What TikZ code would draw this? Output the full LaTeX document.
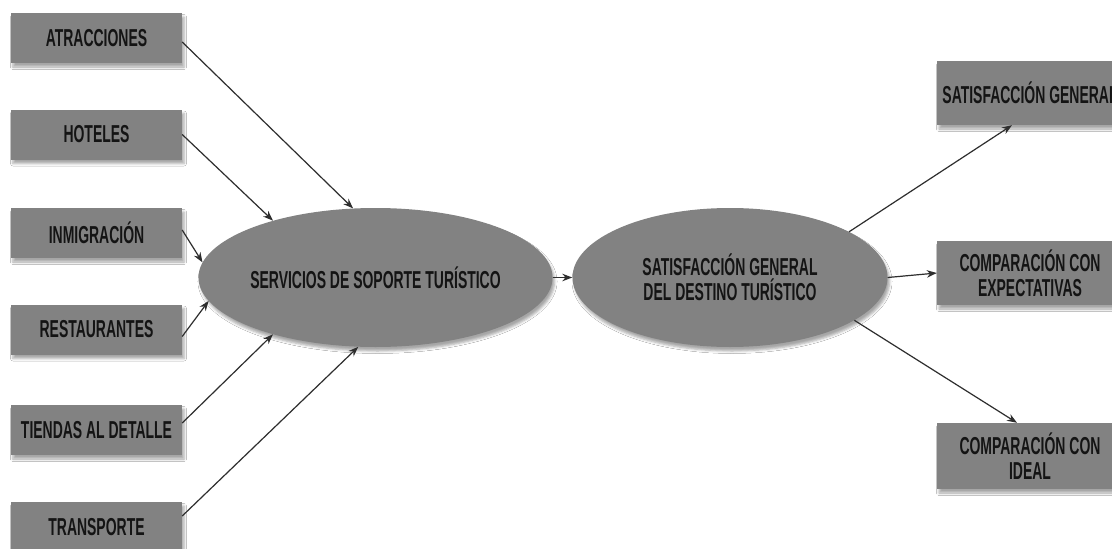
\documentclass[tikz,border=0pt]{standalone}
\usepackage{fontspec}
\newfontfamily\labelfont[FakeStretch=0.57]{Liberation Sans}
\usetikzlibrary{shapes.geometric,arrows.meta,shadows.blur}
\definecolor{boxgray}{HTML}{828282}
\definecolor{inkdark}{HTML}{141414}
\definecolor{linedark}{HTML}{2E2E2E}
\tikzset{
  softshadow/.style={blur shadow={shadow xshift=2pt, shadow yshift=-4pt,
    shadow opacity=35, shadow blur radius=2.5pt}},
  labeltext/.style={text=inkdark, font=\labelfont\bfseries\fontsize{24.5}{25}\selectfont},
  factor/.style={rectangle, fill=boxgray, softshadow, minimum width=171pt,
    minimum height=50pt, inner sep=0pt, labeltext},
  outcome/.style={rectangle, fill=boxgray, softshadow, minimum width=186pt,
    minimum height=64pt, inner sep=0pt, align=center, labeltext},
  bubble/.style={ellipse, fill=boxgray, softshadow, minimum width=315pt,
    minimum height=139pt, inner sep=0pt, align=center, labeltext},
  link/.style={draw=linedark, line width=1.2pt, -{Stealth[length=10pt,width=7.5pt]}}
}
\begin{document}
\begin{tikzpicture}[x=1pt, y=-1pt]
  \clip (0,0) rectangle (1112,549);
  \fill[white] (0,0) rectangle (1112,549);

  % factors feeding the support services
  \node[factor] (atr) at (96.5, 38)  {ATRACCIONES};
  \node[factor] (hot) at (96.5, 134.5) {HOTELES};
  \node[factor] (inm) at (96.5, 233) {INMIGRACIÓN};
  \node[factor] (res) at (96.5, 329.5) {RESTAURANTES};
  \node[factor] (tie) at (96.5, 430) {TIENDAS AL DETALLE};
  \node[factor] (tra) at (96.5, 527) {TRANSPORTE};

  % central constructs
  \node[bubble] (sop) at (375.5, 277.5) {SERVICIOS DE SOPORTE TURÍSTICO};
  \node[bubble] (sat) at (730, 277.5) {SATISFACCIÓN GENERAL\\DEL DESTINO TURÍSTICO};

  % outcome indicators
  \node[outcome] (gen) at (1030, 93)  {SATISFACCIÓN GENERAL};
  \node[outcome] (exp) at (1030, 273) {COMPARACIÓN CON\\EXPECTATIVAS};
  \node[outcome, minimum height=66pt] (ide) at (1030, 456) {COMPARACIÓN CON\\IDEAL};

  % connectors
  \draw[link] ([yshift=-4pt]atr.east) -- (sop.108);
  \draw[link] (hot.east) -- (sop.151);
  \draw[link] ([yshift=3pt]inm.east) -- (sop.175.4);
  \draw[link] ([yshift=-7pt]res.east) -- (sop.188);
  \draw[link] ([yshift=7pt]tie.east) -- (sop.209.6);
  \draw[link] ([yshift=11pt]tra.east) -- (sop.256);

  \draw[link] (sop.east) -- (sat.west);

  \draw[link] (sat.21.9) -- ([xshift=-18pt]gen.south);
  \draw[link] (sat.east) -- (exp.west);
  \draw[link] (sat.341.2) -- ([xshift=-13pt]ide.north);
\end{tikzpicture}
\end{document}
